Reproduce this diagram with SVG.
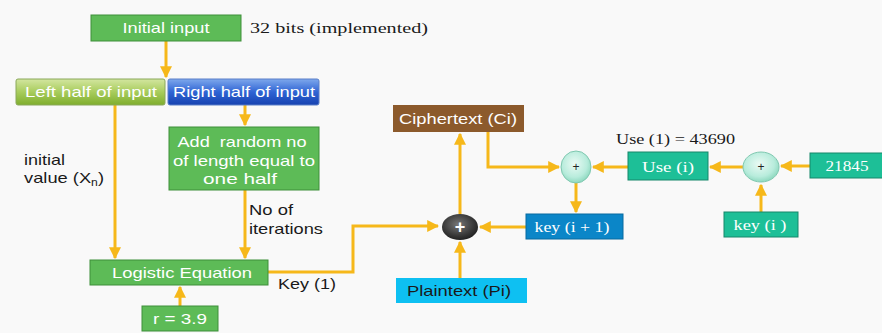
<svg xmlns="http://www.w3.org/2000/svg" width="882" height="333" viewBox="0 0 882 333">
<style>
.sans{font-family:"Liberation Sans",Arial,sans-serif;}
.serif{font-family:"Liberation Serif","Times New Roman",serif;}
.wt{fill:#ffffff;font-size:15px;text-anchor:middle;}
.bk{fill:#1a1a1a;font-size:15px;}
.green{fill:#5dbb57;stroke:#3f8f3a;stroke-width:1;}
.teal{fill:#1dbf97;stroke:#16876b;stroke-width:1;}
.conn{fill:none;stroke:#f6b81a;stroke-width:3;}
</style>
<defs>
<marker id="ah" viewBox="0 0 10 10" refX="9" refY="5" markerWidth="4" markerHeight="4" orient="auto" markerUnits="strokeWidth">
<path d="M0,0 L10,5 L0,10 z" fill="#f6b81a"/>
</marker>
<linearGradient id="gLeft" x1="0" y1="0" x2="0" y2="1">
<stop offset="0" stop-color="#d3e6a0"/><stop offset="0.5" stop-color="#a8cc5c"/><stop offset="1" stop-color="#7fae2e"/>
</linearGradient>
<linearGradient id="gRight" x1="0" y1="0" x2="0" y2="1">
<stop offset="0" stop-color="#7ea8ec"/><stop offset="0.5" stop-color="#2f64d4"/><stop offset="1" stop-color="#1742b0"/>
</linearGradient>
<radialGradient id="gDark" cx="0.45" cy="0.4" r="0.6">
<stop offset="0" stop-color="#777777"/><stop offset="0.7" stop-color="#3a3a3a"/><stop offset="1" stop-color="#222222"/>
</radialGradient>
<radialGradient id="gMint" cx="0.45" cy="0.4" r="0.6">
<stop offset="0" stop-color="#eafaf4"/><stop offset="0.7" stop-color="#b8ecdc"/><stop offset="1" stop-color="#8fd9c0"/>
</radialGradient>
</defs>
<rect x="0" y="0" width="882" height="333" fill="#f9f9f9"/>

<g id="connectors">
<line class="conn" x1="166" y1="41" x2="166" y2="77" marker-end="url(#ah)"/>
<line class="conn" x1="115" y1="105" x2="115" y2="258" marker-end="url(#ah)"/>
<line class="conn" x1="245" y1="105" x2="245" y2="125" marker-end="url(#ah)"/>
<line class="conn" x1="245" y1="190" x2="245" y2="258" marker-end="url(#ah)"/>
<line class="conn" x1="180" y1="306" x2="180" y2="287" marker-end="url(#ah)"/>
<polyline class="conn" points="268,272 353,272 353,226 438,226" marker-end="url(#ah)"/>
<line class="conn" x1="460" y1="214" x2="460" y2="134" marker-end="url(#ah)"/>
<line class="conn" x1="460" y1="278" x2="460" y2="242" marker-end="url(#ah)"/>
<line class="conn" x1="526" y1="227" x2="480" y2="227" marker-end="url(#ah)"/>
<polyline class="conn" points="488,132 488,167 559,167" marker-end="url(#ah)"/>
<line class="conn" x1="576" y1="183" x2="576" y2="212" marker-end="url(#ah)"/>
<line class="conn" x1="628" y1="167" x2="593" y2="167" marker-end="url(#ah)"/>
<line class="conn" x1="743" y1="167" x2="710" y2="167" marker-end="url(#ah)"/>
<line class="conn" x1="810" y1="166" x2="781" y2="166" marker-end="url(#ah)"/>
<line class="conn" x1="761" y1="212" x2="761" y2="185" marker-end="url(#ah)"/>
</g>

<g id="initial-input">
<rect class="green" x="91" y="15" width="150" height="26"/>
<text class="sans wt" x="166" y="33" textLength="87" lengthAdjust="spacingAndGlyphs">Initial input</text>
</g>
<g id="bits-label">
<text class="serif bk" x="250" y="33" font-size="17" textLength="178" lengthAdjust="spacingAndGlyphs">32 bits (implemented)</text>
</g>

<g id="left-half">
<rect x="16" y="79" width="149" height="26" fill="url(#gLeft)" stroke="#8aa85a" stroke-width="1" rx="2"/>
<text class="sans wt" x="91" y="97" textLength="132" lengthAdjust="spacingAndGlyphs">Left half of input</text>
</g>
<g id="right-half">
<rect x="168" y="79" width="151" height="26" fill="url(#gRight)" stroke="#5a7fc8" stroke-width="1" rx="2"/>
<text class="sans wt" x="244" y="97" textLength="142" lengthAdjust="spacingAndGlyphs">Right half of input</text>
</g>

<g id="add-random">
<rect class="green" x="169" y="127" width="150" height="63"/>
<text class="sans wt" x="242" y="147" textLength="129" lengthAdjust="spacingAndGlyphs" xml:space="preserve">Add  random no</text>
<text class="sans wt" x="244" y="166" textLength="142" lengthAdjust="spacingAndGlyphs">of length equal to</text>
<text class="sans wt" x="240" y="184" textLength="74" lengthAdjust="spacingAndGlyphs">one half</text>
</g>

<g id="initial-label">
<text class="sans bk" x="24" y="165" textLength="41" lengthAdjust="spacingAndGlyphs">initial</text>
<text class="sans bk" x="24" y="183" textLength="80" lengthAdjust="spacingAndGlyphs">value (X<tspan font-size="10" dy="3">n</tspan><tspan dy="-3">)</tspan></text>
</g>

<g id="iterations-label">
<text class="sans bk" x="249" y="215" textLength="44" lengthAdjust="spacingAndGlyphs">No of</text>
<text class="sans bk" x="249" y="234" textLength="74" lengthAdjust="spacingAndGlyphs">iterations</text>
</g>

<g id="logistic">
<rect class="green" x="90" y="260" width="178" height="25"/>
<text class="sans wt" x="182" y="278" textLength="140" lengthAdjust="spacingAndGlyphs">Logistic Equation</text>
</g>

<g id="key1-label">
<text class="sans bk" x="278" y="289" textLength="58" lengthAdjust="spacingAndGlyphs">Key (1)</text>
</g>

<g id="r-value">
<rect class="green" x="142" y="306" width="76" height="25"/>
<text class="sans wt" x="180" y="324" textLength="54" lengthAdjust="spacingAndGlyphs">r = 3.9</text>
</g>

<g id="ciphertext">
<rect x="393" y="105" width="131" height="27" fill="#8c5a2c"/>
<text class="sans wt" x="458" y="124" textLength="118" lengthAdjust="spacingAndGlyphs">Ciphertext (Ci)</text>
</g>

<g id="xor-main">
<ellipse cx="460" cy="227" rx="18" ry="13" fill="url(#gDark)"/>
<text class="sans" x="460" y="233" font-size="18" font-weight="bold" fill="#ffffff" text-anchor="middle">+</text>
</g>

<g id="plaintext">
<rect x="396" y="278" width="131" height="25" fill="#0ec0f2"/>
<text class="sans bk" x="459" y="296" text-anchor="middle" textLength="104" lengthAdjust="spacingAndGlyphs">Plaintext (Pi)</text>
</g>

<g id="key-i1">
<rect x="526" y="214" width="97" height="25" fill="#0b86c8" stroke="#086ba0" stroke-width="1"/>
<text class="serif wt" x="572" y="232" font-size="17" textLength="75" lengthAdjust="spacingAndGlyphs">key (i + 1)</text>
</g>

<g id="add1">
<ellipse cx="576" cy="167" rx="15" ry="16" fill="url(#gMint)" stroke="#7fc8b0" stroke-width="1"/>
<text class="sans" x="576" y="171" font-size="12" fill="#222" text-anchor="middle">+</text>
</g>

<g id="use-label">
<text class="serif bk" x="616" y="144" font-size="17" textLength="119" lengthAdjust="spacingAndGlyphs">Use (1) = 43690</text>
</g>

<g id="use-i">
<rect class="teal" x="628" y="152" width="80" height="28"/>
<text class="serif wt" x="668" y="172" font-size="17" textLength="52" lengthAdjust="spacingAndGlyphs">Use (i)</text>
</g>

<g id="add2">
<ellipse cx="761" cy="167" rx="18" ry="15" fill="url(#gMint)" stroke="#7fc8b0" stroke-width="1"/>
<text class="sans" x="761" y="171" font-size="12" fill="#222" text-anchor="middle">+</text>
</g>

<g id="n21845">
<rect class="teal" x="810" y="153" width="75" height="25"/>
<text class="serif wt" x="847" y="171" font-size="17" textLength="43" lengthAdjust="spacingAndGlyphs">21845</text>
</g>

<g id="key-i">
<rect class="teal" x="724" y="212" width="74" height="25"/>
<text class="serif wt" x="760" y="230" font-size="17" textLength="53" lengthAdjust="spacingAndGlyphs">key (i )</text>
</g>
</svg>
